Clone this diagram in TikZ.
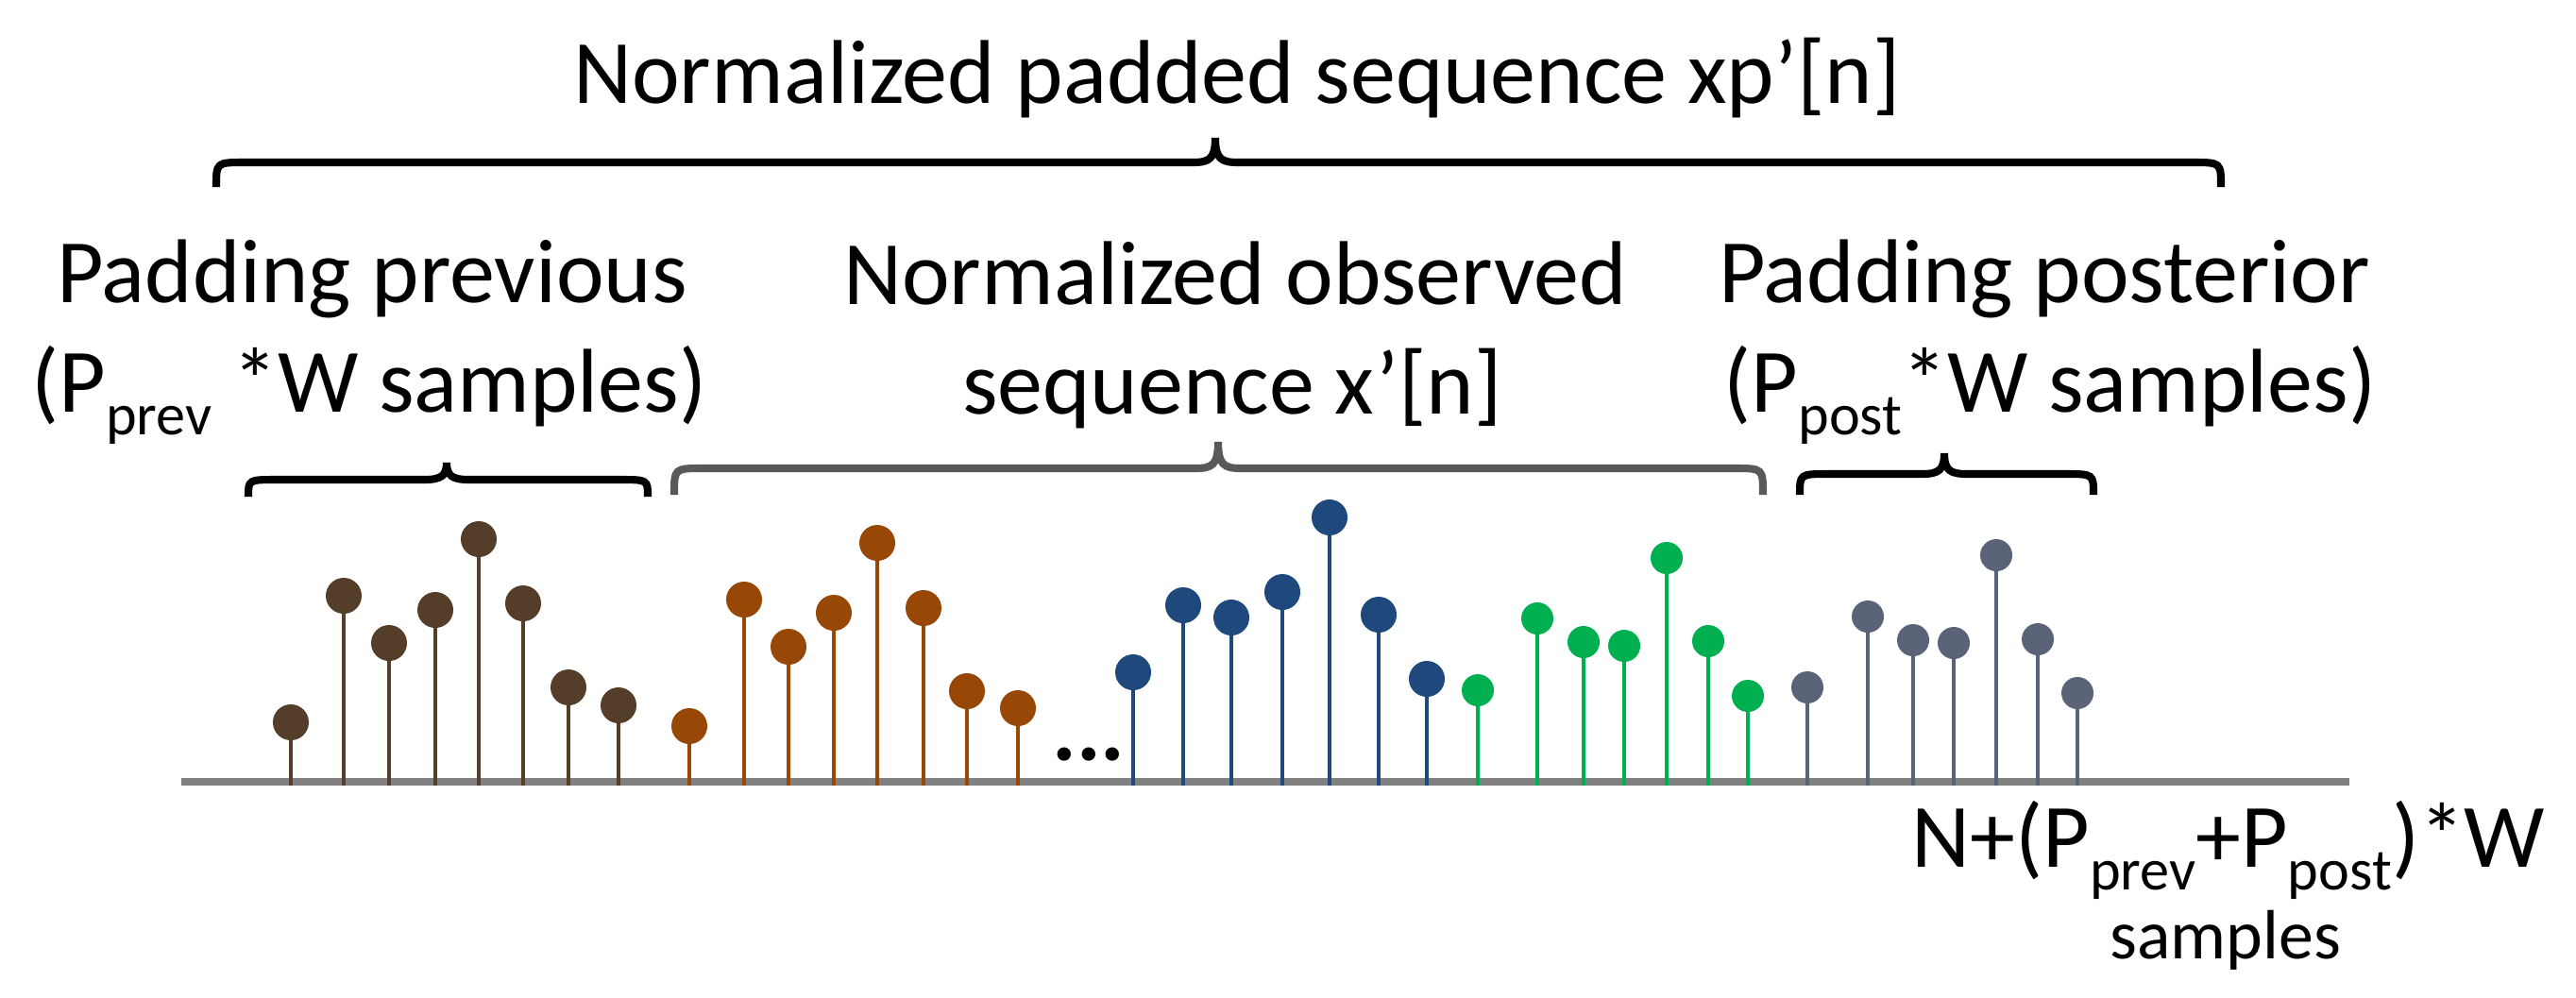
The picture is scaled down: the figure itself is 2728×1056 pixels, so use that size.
\documentclass[tikz,border=0pt]{standalone}
\usepackage{fontspec}
\setmainfont{Carlito}

\newcommand{\axisy}{828}
\newcommand{\dotr}{0.19cm}
\newcommand{\dotrs}{0.17cm}
\newcommand{\lowsub}[1]{\raisebox{-0.26em}[0pt][0pt]{\fontsize{17.7}{18}\selectfont #1}}
% brace: style, left x, right x, tip x, line y, tip y, end y
\newcommand{\seqbrace}[7]{%
	\draw[#1] (#2,#7) .. controls (#2,#5) .. (#2+30,#5) -- (#4-24,#5)
		.. controls (#4-6,#5) and (#4,#5-4) .. (#4,#6)
		.. controls (#4,#5-4) and (#4+6,#5) .. (#4+24,#5)
		-- (#3-30,#5) .. controls (#3,#5) .. (#3,#7);}
\definecolor{mybrown}{RGB}{84,61,41}
\definecolor{myorange}{RGB}{151,72,7}
\definecolor{myblue}{RGB}{31,73,125}
\definecolor{mygreen}{RGB}{0,176,80}
\definecolor{myslate}{RGB}{90,99,120}
\definecolor{myaxis}{RGB}{128,128,128}
\definecolor{mygray}{RGB}{89,89,89}

\tikzset{
	lbl/.style={anchor=base, inner sep=0pt, font=\fontsize{27.3}{32}\selectfont},
	stem/.style={line width=1.3pt},
	brace/.style={line width=2.3pt, line cap=butt}
}

\begin{document}
\begin{tikzpicture}[x=0.01cm, y=-0.01cm]

	\useasboundingbox (0,0) rectangle (2728,1056);

	% labels
	\node[lbl] (padded) at (1310,109) {Normalized padded sequence xp’[n]};
	\node[lbl] (prevA) at (394,320) {Padding previous};
	\node[lbl] (prevB) at (391,436) {(P\lowsub{prev} *W samples)};
	\node[lbl] (obsA) at (1308,322) {Normalized observed};
	\node[lbl] (obsB) at (1305,438) {sequence x’[n]};
	\node[lbl] (postA) at (2165,320) {Padding posterior};
	\node[lbl] (postB) at (2171,436) {(P\lowsub{post}*W samples)};
	\node[lbl] (totalA) at (2360,918) {N+(P\lowsub{prev}+P\lowsub{post})*W};
	\node[lbl, font=\fontsize{21}{24}\selectfont] (totalB) at (2357,1015) {samples};
	\node[lbl] (gap) at (1153,805) {\textbf{...}};

	% braces
	\seqbrace{brace}{229}{2352}{1287}{172}{146}{198}
	\seqbrace{brace}{263}{686}{473}{508}{490}{526}
	\seqbrace{brace, draw=mygray}{714}{1867}{1290}{496}{468}{524}
	\seqbrace{brace}{1906}{2217}{2059}{502}{480}{524}

	% axis
	\draw [line width=2.3pt, myaxis] (192,\axisy) -- (2488,\axisy);

	% padding previous
	\draw [stem, mybrown] (308,832) -- (308,765) (364,832) -- (364,631) (412,832) -- (412,681)
		(461,832) -- (461,646) (507,832) -- (507,571) (554,832) -- (554,639)
		(602,832) -- (602,728) (655,832) -- (655,747);
	\fill [mybrown] (308,765) circle (\dotr) (364,631) circle (\dotr) (412,681) circle (\dotr)
		(461,646) circle (\dotr) (507,571) circle (\dotr) (554,639) circle (\dotr)
		(602,728) circle (\dotr) (655,747) circle (\dotr);

	% observed, first window
	\draw [stem, myorange] (730,832) -- (730,769) (788,832) -- (788,635) (835,832) -- (835,685)
		(883,832) -- (883,649) (929,832) -- (929,575) (978,832) -- (978,644)
		(1024,832) -- (1024,732) (1078,832) -- (1078,750);
	\fill [myorange] (730,769) circle (\dotr) (788,635) circle (\dotr) (835,685) circle (\dotr)
		(883,649) circle (\dotr) (929,575) circle (\dotr) (978,644) circle (\dotr)
		(1024,732) circle (\dotr) (1078,750) circle (\dotr);

	% observed, last windows
	\draw [stem, myblue] (1200,832) -- (1200,712) (1253,832) -- (1253,641) (1304,832) -- (1304,654)
		(1358,832) -- (1358,627) (1408,832) -- (1408,548) (1460,832) -- (1460,651)
		(1511,832) -- (1511,719);
	\fill [myblue] (1200,712) circle (\dotr) (1253,641) circle (\dotr) (1304,654) circle (\dotr)
		(1358,627) circle (\dotr) (1408,548) circle (\dotr) (1460,651) circle (\dotr)
		(1511,719) circle (\dotr);
	\draw [stem, mygreen] (1565,832) -- (1565,731) (1628,832) -- (1628,655) (1677,832) -- (1677,680)
		(1720,832) -- (1720,684) (1765,832) -- (1765,591) (1809,832) -- (1809,679)
		(1851,832) -- (1851,737);
	\fill [mygreen] (1565,731) circle (\dotrs) (1628,655) circle (\dotrs) (1677,680) circle (\dotrs)
		(1720,684) circle (\dotrs) (1765,591) circle (\dotrs) (1809,679) circle (\dotrs)
		(1851,737) circle (\dotrs);

	% padding posterior
	\draw [stem, myslate] (1914,832) -- (1914,728) (1978,832) -- (1978,653) (2026,832) -- (2026,678)
		(2069,832) -- (2069,681) (2114,832) -- (2114,588) (2158,832) -- (2158,677)
		(2200,832) -- (2200,734);
	\fill [myslate] (1914,728) circle (\dotrs) (1978,653) circle (\dotrs) (2026,678) circle (\dotrs)
		(2069,681) circle (\dotrs) (2114,588) circle (\dotrs) (2158,677) circle (\dotrs)
		(2200,734) circle (\dotrs);

\end{tikzpicture}
\end{document}
